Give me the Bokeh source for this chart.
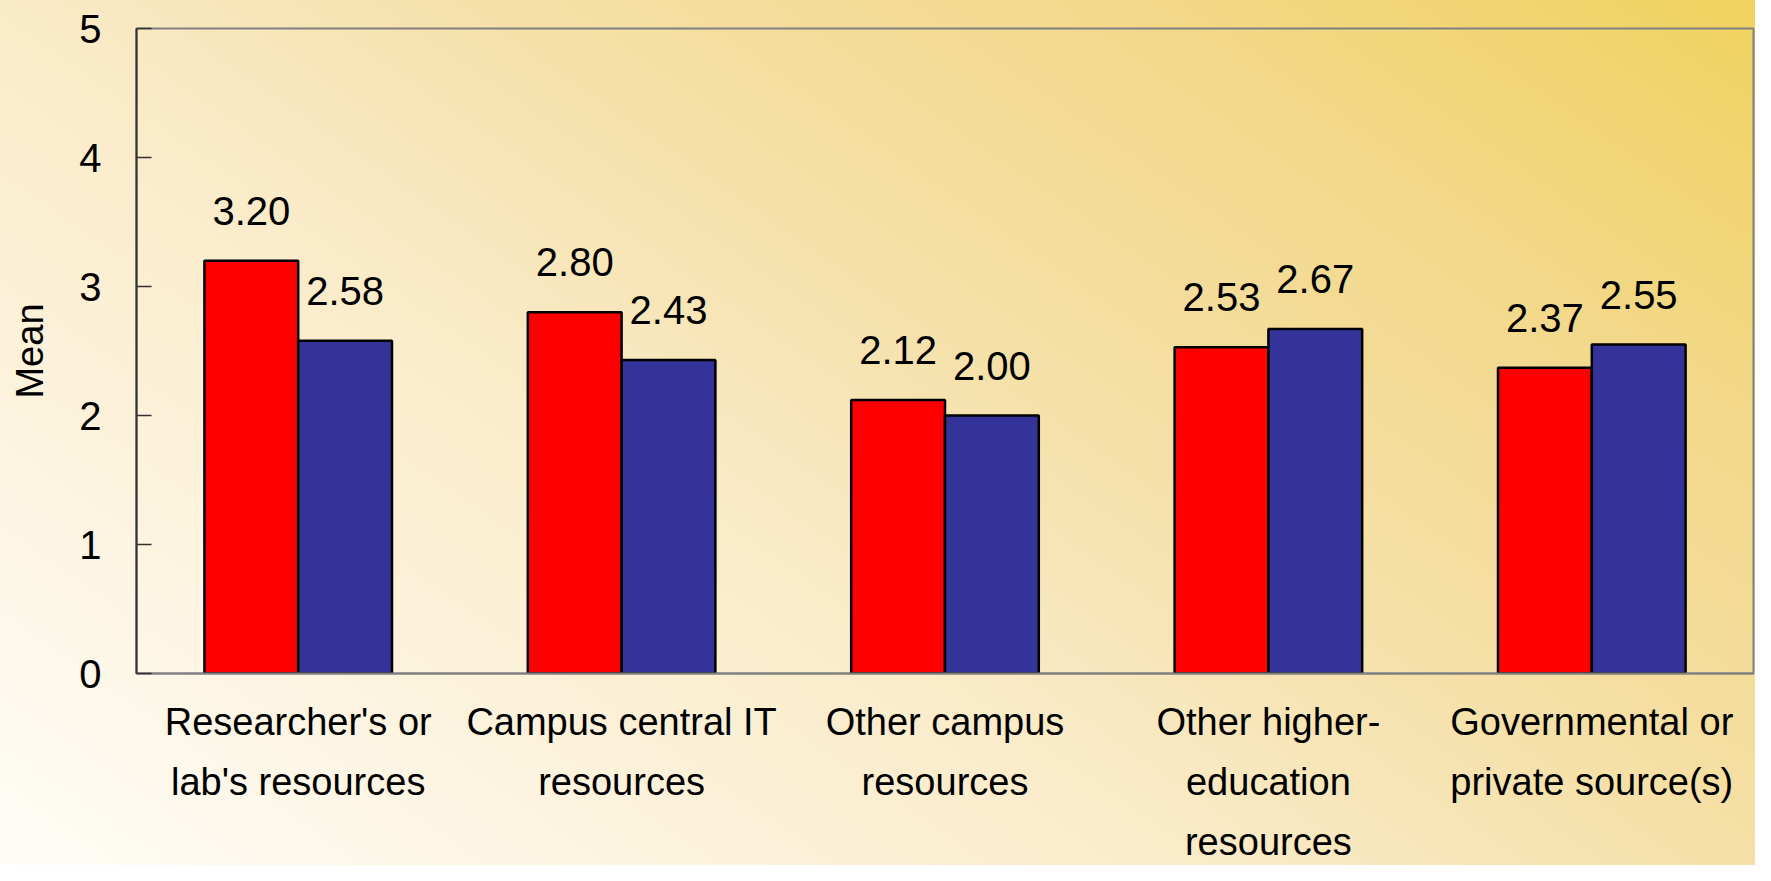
from bokeh.plotting import figure
from bokeh.models import ColumnDataSource, FactorRange, FixedTicker
from bokeh.transform import dodge
from bokeh.core.properties import value
from bokeh.embed import file_html
from bokeh.resources import INLINE

categories = [
    "Researcher's or\nlab's resources",
    "Campus central IT\nresources",
    "Other campus\nresources",
    "Other higher-\neducation\nresources",
    "Governmental or\nprivate source(s)",
]
series_red = [3.20, 2.80, 2.12, 2.53, 2.37]
series_blue = [2.58, 2.43, 2.00, 2.67, 2.55]
y_ticks = [0, 1, 2, 3, 4, 5]

FONT = "Liberation Sans"
FS_NUM = "40px"
FS_TXT = "38px"

src = ColumnDataSource(dict(
    cat=categories,
    red=series_red,
    blue=series_blue,
    red_lbl=[f"{v:.2f}" for v in series_red],
    blue_lbl=[f"{v:.2f}" for v in series_blue],
))

p = figure(
    x_range=FactorRange(*categories, range_padding=0.0),
    y_range=(0, 5),
    width=1755, height=865,
    output_backend="svg", toolbar_location=None,
    min_border_left=136, min_border_right=2, min_border_top=28, min_border_bottom=192,
)
p.styles = {"background-image": "linear-gradient(35deg, #fffdf8 0%, #faebc8 41%, #f5e0a8 58%, #f2d888 80%, #f0d25e 100%)"}
p.background_fill_alpha = 0
p.border_fill_alpha = 0
p.outline_line_color = "#808080"
p.outline_line_width = 2
p.grid.visible = False

W = 0.29
p.vbar(x=dodge("cat", -W / 2, range=p.x_range), top="red", width=W, source=src,
       fill_color="#FF0000", line_color="black", line_width=2.5)
p.vbar(x=dodge("cat", W / 2, range=p.x_range), top="blue", width=W, source=src,
       fill_color="#333399", line_color="black", line_width=2.5)

p.text(x=dodge("cat", -W / 2, range=p.x_range), y="red", text="red_lbl", source=src,
       text_font=value(FONT), text_font_size=FS_NUM, text_align="center",
       text_baseline="alphabetic", y_offset=-50, text_color="black")
p.text(x=dodge("cat", W / 2, range=p.x_range), y="blue", text="blue_lbl", source=src,
       text_font=value(FONT), text_font_size=FS_NUM, text_align="center",
       text_baseline="alphabetic", y_offset=-50, text_color="black")

ya = p.yaxis[0]
ya.ticker = FixedTicker(ticks=y_ticks)
ya.axis_label = "Mean"
ya.axis_label_text_font = FONT
ya.axis_label_text_font_size = FS_TXT
ya.axis_label_text_font_style = "normal"
ya.axis_label_text_color = "black"
ya.axis_label_standoff = 25
ya.major_label_text_font = FONT
ya.major_label_text_font_size = FS_NUM
ya.major_label_text_color = "black"
ya.major_label_standoff = 35
ya.major_tick_in = 15
ya.major_tick_out = 0
ya.minor_tick_in = 0
ya.minor_tick_out = 0
ya.axis_line_color = "#333333"
ya.axis_line_width = 2
ya.major_tick_line_color = "#333333"
ya.major_tick_line_width = 1.5

xa = p.xaxis[0]
xa.major_label_text_font = FONT
xa.major_label_text_font_size = FS_TXT
xa.major_label_text_color = "black"
xa.major_label_text_line_height = 1.43
xa.major_label_standoff = 27
xa.major_tick_in = 0
xa.major_tick_out = 0
xa.axis_line_color = "#808080"
xa.axis_line_width = 2

open("out.html", "w").write(file_html(p, INLINE))
